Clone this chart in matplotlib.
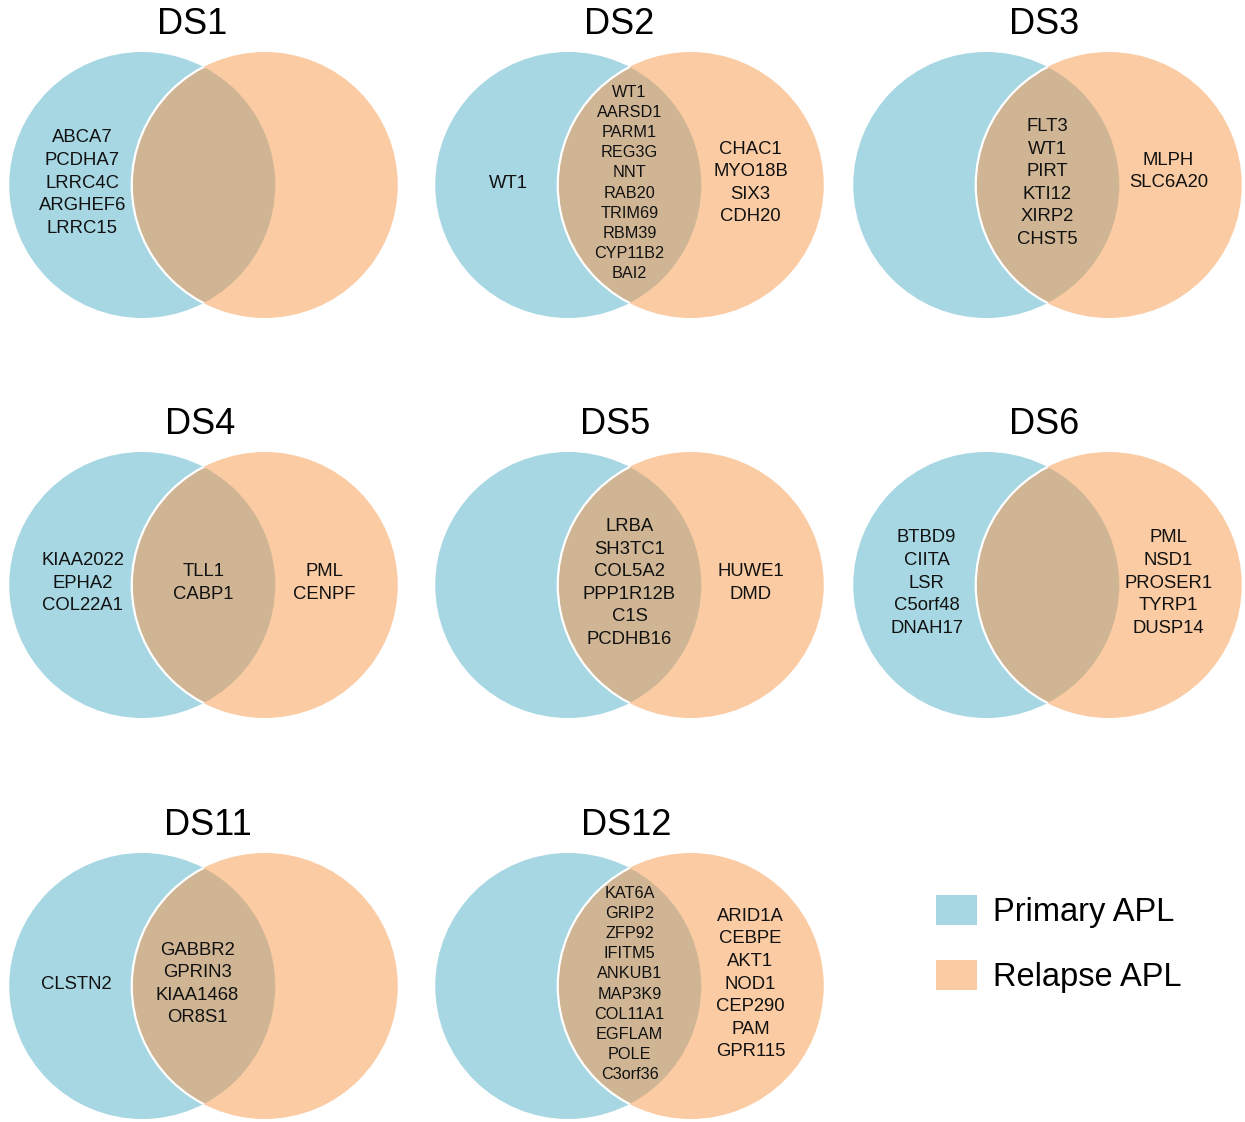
import matplotlib
matplotlib.use('Agg')
import matplotlib.pyplot as plt
from matplotlib.patches import Circle, Patch

plt.rcParams['font.family'] = ['Liberation Sans', 'DejaVu Sans']

# Mutated genes per sample: only in primary, in both, only in relapse.
PANELS = ['DS1', 'DS2', 'DS3', 'DS4', 'DS5', 'DS6', 'DS11', 'DS12']

PRIMARY_ONLY = [
    ['ABCA7', 'PCDHA7', 'LRRC4C', 'ARGHEF6', 'LRRC15'],
    ['WT1'],
    [],
    ['KIAA2022', 'EPHA2', 'COL22A1'],
    [],
    ['BTBD9', 'CIITA', 'LSR', 'C5orf48', 'DNAH17'],
    ['CLSTN2'],
    [],
]

SHARED = [
    [],
    ['WT1', 'AARSD1', 'PARM1', 'REG3G', 'NNT', 'RAB20', 'TRIM69', 'RBM39',
     'CYP11B2', 'BAI2'],
    ['FLT3', 'WT1', 'PIRT', 'KTI12', 'XIRP2', 'CHST5'],
    ['TLL1', 'CABP1'],
    ['LRBA', 'SH3TC1', 'COL5A2', 'PPP1R12B', 'C1S', 'PCDHB16'],
    [],
    ['GABBR2', 'GPRIN3', 'KIAA1468', 'OR8S1'],
    ['KAT6A', 'GRIP2', 'ZFP92', 'IFITM5', 'ANKUB1', 'MAP3K9', 'COL11A1',
     'EGFLAM', 'POLE', 'C3orf36'],
]

RELAPSE_ONLY = [
    [],
    ['CHAC1', 'MYO18B', 'SIX3', 'CDH20'],
    ['MLPH', 'SLC6A20'],
    ['PML', 'CENPF'],
    ['HUWE1', 'DMD'],
    ['PML', 'NSD1', 'PROSER1', 'TYRP1', 'DUSP14'],
    [],
    ['ARID1A', 'CEBPE', 'AKT1', 'NOD1', 'CEP290', 'PAM', 'GPR115'],
]

SERIES = ['Primary APL', 'Relapse APL']

BLUE = '#a6d7e3'
ORANGE = '#fbcba3'
OVERLAP = '#cfb594'
TEXT = '#111111'

# layout in pixels of a 1245 x 1122 canvas
COL_X = [203.5, 629.5, 1047.5]
ROW_Y = [185, 585, 986]
RADIUS = 133
HALF_SEP = 61.25
TITLE_DX = [-11, -10.5, -3.5, -3.5, -14.5, -3.5, 4.5, -3.5]
LABEL_SHIFT = [0, 0, 0, 0, 0, 0, -6, 0]
GROUP_DX = (-121, 0, 121)


def draw_lines(ax, x, y, genes, size, step):
    n = len(genes)
    for i, gene in enumerate(genes):
        yy = y + (i - (n - 1) / 2) * step
        ax.text(x, yy, gene, ha='center', va='center', fontsize=size,
                color=TEXT)


def draw_venn(ax, k, cx, cy):
    lx, rx = cx - HALF_SEP, cx + HALF_SEP
    ax.add_patch(Circle((lx, cy), RADIUS, fc=BLUE, ec='none'))
    ax.add_patch(Circle((rx, cy), RADIUS, fc=ORANGE, ec='none'))

    lens = Circle((lx, cy), RADIUS, fc=OVERLAP, ec='none')
    ax.add_patch(lens)
    lens.set_clip_path(Circle((rx, cy), RADIUS, transform=ax.transData))

    arc = Circle((rx, cy), RADIUS, fc='none', ec='white', lw=1.6)
    ax.add_patch(arc)
    arc.set_clip_path(Circle((lx, cy), RADIUS, transform=ax.transData))

    ax.text(cx + TITLE_DX[k], cy - 161, PANELS[k], ha='center', va='center',
            fontsize=26, color='black')

    groups = (PRIMARY_ONLY[k], SHARED[k], RELAPSE_ONLY[k])
    for j, genes in enumerate(groups):
        if not genes:
            continue
        crowded = len(genes) >= 9
        size = 11.7 if crowded else 13.3
        step = 20.1 if crowded else 22.6
        y = cy - 2
        if PANELS[k] == 'DS3' and j == 2:
            y = cy - 13.5
        draw_lines(ax, cx + GROUP_DX[j] + LABEL_SHIFT[k], y, genes, size, step)


fig = plt.figure(figsize=(12.45, 11.22), dpi=100)
ax = fig.add_axes([0, 0, 1, 1])
ax.set_xlim(0, 1245)
ax.set_ylim(1122, 0)
ax.axis('off')

for k in range(len(PANELS)):
    row, col = divmod(k, 3)
    draw_venn(ax, k, COL_X[col], ROW_Y[row])

handles = [Patch(fc=BLUE, ec='none'), Patch(fc=ORANGE, ec='none')]
ax.legend(handles, SERIES, loc='upper left', bbox_to_anchor=(936, 895),
          bbox_transform=ax.transData, frameon=False, fontsize=23.5,
          handlelength=1.26, handleheight=1.04, handletextpad=0.49,
          labelspacing=0.98, borderpad=0, borderaxespad=0)

fig.savefig('out.png', dpi=100)
